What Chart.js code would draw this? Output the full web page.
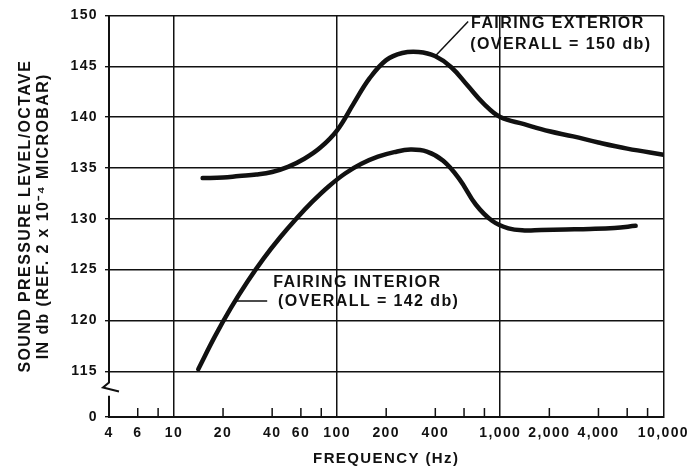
<!DOCTYPE html>
<html>
<head>
<meta charset="utf-8">
<script src="https://cdn.jsdelivr.net/npm/chart.js@4.4.1/dist/chart.umd.min.js"></script>
<style>
    html, body { margin: 0; padding: 0; background: #fff; }
</style>
</head>
<body>
<canvas id="chartSpl" width="697" height="473"></canvas>
<script>
    // fairing exterior (overall = 150 db)
    var freqExterior = [15, 20, 25, 32, 40, 50, 63, 79, 100, 126, 158, 200, 251, 316, 398, 501, 631, 794, 1000, 1400, 2000, 2800, 4000, 6000, 10000];
    var splExterior = [134.0, 134.05, 134.2, 134.35, 134.6, 135.1, 135.9, 137.0, 138.7, 141.3, 143.8, 145.6, 146.3, 146.4, 146.0, 144.9, 143.1, 141.3, 140.0, 139.3, 138.6, 138.1, 137.5, 136.9, 136.3];

    // fairing interior (overall = 142 db)
    var freqInterior = [14.1, 17.8, 22.4, 28.2, 35.5, 44.7, 56.2, 70.8, 89.1, 112, 141, 178, 224, 282, 355, 447, 562, 708, 891, 1122, 1413, 1778, 2512, 3548, 5012, 6761];
    var splInterior = [115.2, 118.4, 121.25, 123.8, 126.1, 128.15, 130.0, 131.7, 133.2, 134.45, 135.4, 136.1, 136.55, 136.8, 136.6, 135.7, 133.9, 131.4, 129.8, 129.05, 128.85, 128.9, 128.95, 129.0, 129.1, 129.3];

    var xTickValues = [4, 6, 8, 10, 20, 40, 60, 80, 100, 200, 400, 600, 800, 1000, 2000, 4000, 6000, 8000, 10000];
    var xTickLabels = [4, 6, 10, 20, 40, 60, 100, 200, 400, 1000, 2000, 4000, 10000];
    var xFullLines = [10, 100, 1000, 10000];

    // the axis is broken: its bottom (110.5) is labelled 0
    var yZeroValue = 110.5;
    var yTickValues = [110.5, 115, 120, 125, 130, 135, 140, 145, 150];
    var yBreakUpper = 113.9;
    var yBreakLower = 112.6;

    // callout texts, placed at [freq, spl]
    var labelExterior = ['FAIRING EXTERIOR', '(OVERALL = 150 db)'];
    var labelExteriorAt = [[663, 149.15], [655, 147.15]];
    var leaderExterior = [[636, 149.4], [400, 146.0]];
    var labelInterior = ['FAIRING INTERIOR', '(OVERALL = 142 db)'];
    var labelInteriorAt = [[40.6, 123.75], [43.5, 121.9]];
    var leaderInterior = [[23.5, 121.9], [37.3, 121.9]];

    const fontFamily = '"Liberation Sans", Arial, Helvetica, sans-serif';
    const ink = '#111';

    const letterSpacing = {
        id: 'letterSpacing',
        beforeUpdate: function (chart) { chart.ctx.letterSpacing = '1.4px'; },
        beforeDraw: function (chart) { chart.ctx.letterSpacing = '1.4px'; }
    };

    const axisDecor = {
        id: 'axisDecor',
        afterDraw: function (chart) {
            const ctx = chart.ctx, area = chart.chartArea;
            const xs = chart.scales.x, ys = chart.scales.y;
            ctx.save();
            ctx.strokeStyle = ink;
            ctx.lineWidth = 1.5;
            // short ticks rising from the bottom axis
            for (const v of xTickValues) {
                if (xFullLines.indexOf(v) >= 0 || v === xTickValues[0]) continue;
                const px = xs.getPixelForValue(v);
                ctx.beginPath();
                ctx.moveTo(px, area.bottom);
                ctx.lineTo(px, area.bottom - 9);
                ctx.stroke();
            }
            // left axis with the break symbol
            const x0 = area.left;
            const yu = ys.getPixelForValue(yBreakUpper);
            const yl = ys.getPixelForValue(yBreakLower);
            ctx.lineWidth = 2;
            ctx.beginPath();
            ctx.moveTo(x0, area.top);
            ctx.lineTo(x0, yu);
            ctx.lineTo(x0 - 6, yu + 5);
            ctx.lineTo(x0 + 10, yu + 9);
            ctx.stroke();
            ctx.beginPath();
            ctx.moveTo(x0, yl);
            ctx.lineTo(x0, area.bottom);
            ctx.stroke();
            ctx.restore();
        }
    };

    const callouts = {
        id: 'callouts',
        afterDatasetsDraw: function (chart) {
            const ctx = chart.ctx;
            const xs = chart.scales.x, ys = chart.scales.y;
            const px = p => [xs.getPixelForValue(p[0]), ys.getPixelForValue(p[1])];
            ctx.save();
            ctx.fillStyle = ink;
            ctx.strokeStyle = ink;
            ctx.lineWidth = 1.5;
            ctx.font = 'bold 16px ' + fontFamily;
            ctx.textAlign = 'left';
            ctx.textBaseline = 'middle';
            [[labelExterior, labelExteriorAt], [labelInterior, labelInteriorAt]].forEach(function (g) {
                g[0].forEach(function (t, i) {
                    const p = px(g[1][i]);
                    ctx.fillText(t, p[0], p[1]);
                });
            });
            [leaderExterior, leaderInterior].forEach(function (l) {
                const a = px(l[0]), b = px(l[1]);
                ctx.beginPath();
                ctx.moveTo(a[0], a[1]);
                ctx.lineTo(b[0], b[1]);
                ctx.stroke();
            });
            ctx.restore();
        }
    };

    function curve(label, xs, ys) {
        return {
            label: label,
            data: xs.map((x, i) => ({ x: x, y: ys[i] })),
            borderColor: ink,
            backgroundColor: ink,
            borderWidth: 4.5,
            pointRadius: 0,
            tension: 0.4,
            borderCapStyle: 'round',
            borderJoinStyle: 'round',
            fill: false
        };
    }

    let ctxSpl = document.getElementById('chartSpl').getContext('2d');

    let splChart = new Chart(ctxSpl, {
        type: 'line',
        data: {
            datasets: [
                curve('Fairing exterior', freqExterior, splExterior),
                curve('Fairing interior', freqInterior, splInterior)
            ]
        },
        plugins: [letterSpacing, axisDecor, callouts],
        options: {
            responsive: false,
            animation: false,
            layout: { padding: { left: 8, right: 30, top: 15, bottom: 4 } },
            plugins: {
                legend: { display: false },
                tooltip: { enabled: false }
            },
            scales: {
                x: {
                    type: 'logarithmic',
                    min: 4,
                    max: 10000,
                    afterBuildTicks: function (scale) {
                        scale.ticks = xTickValues.map(v => ({ value: v }));
                    },
                    afterFit: function (scale) { scale.height = 52; },
                    ticks: {
                        autoSkip: false,
                        maxRotation: 0,
                        padding: 8,
                        color: ink,
                        font: { family: fontFamily, size: 14, weight: 'bold' },
                        callback: function (value) {
                            return xTickLabels.indexOf(value) >= 0 ? value.toLocaleString('en-US') : '';
                        }
                    },
                    grid: {
                        drawTicks: false,
                        lineWidth: 1.5,
                        color: function (c) {
                            return c.tick && xFullLines.indexOf(c.tick.value) >= 0 ? ink : 'rgba(0,0,0,0)';
                        }
                    },
                    border: { display: true, color: ink, width: 2 },
                    title: {
                        display: true,
                        text: 'FREQUENCY (Hz)',
                        color: ink,
                        padding: { top: 0, bottom: 1 },
                        font: { family: fontFamily, size: 15, weight: 'bold' }
                    }
                },
                y: {
                    type: 'linear',
                    min: yZeroValue,
                    max: 150,
                    afterBuildTicks: function (scale) {
                        scale.ticks = yTickValues.map(v => ({ value: v }));
                    },
                    afterFit: function (scale) { scale.width = 101; },
                    ticks: {
                        padding: 7,
                        color: ink,
                        font: { family: fontFamily, size: 14, weight: 'bold' },
                        callback: function (value) {
                            return value === yZeroValue ? '0' : value;
                        }
                    },
                    grid: {
                        color: ink,
                        lineWidth: 1.4,
                        tickLength: 4
                    },
                    border: { display: false },
                    title: {
                        display: true,
                        text: ['SOUND PRESSURE LEVEL/OCTAVE', 'IN db (REF. 2 x 10\u207B\u2074 MICROBAR)'],
                        color: ink,
                        padding: { top: 8, bottom: 0 },
                        font: { family: fontFamily, size: 16, weight: 'bold', lineHeight: 1.15 }
                    }
                }
            }
        }
    });
</script>
</body>
</html>
